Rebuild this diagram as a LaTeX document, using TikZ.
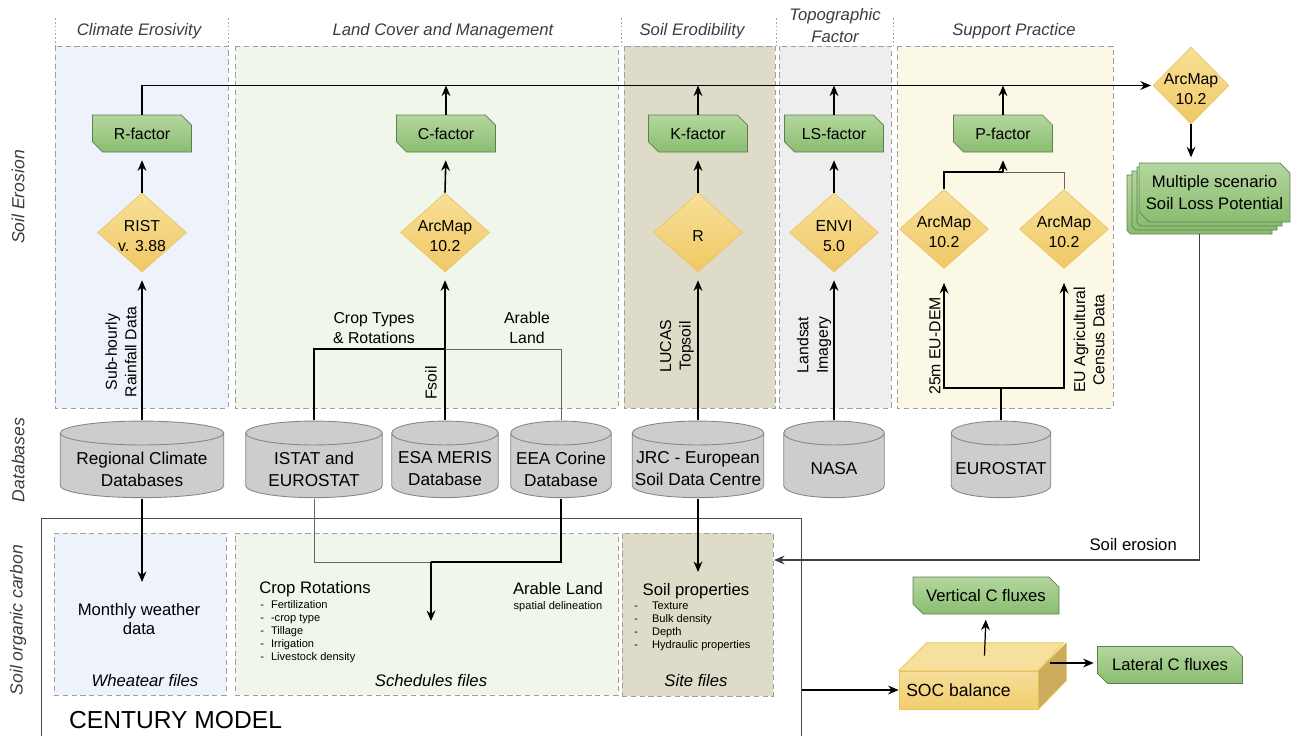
\documentclass[tikz,border=0pt]{standalone}
\usepackage{fontspec}
\setmainfont{Liberation Sans}
\usetikzlibrary{shapes.geometric, shapes.misc, arrows.meta, positioning, calc}

\definecolor{laneblue}{RGB}{238,242,250}
\definecolor{lanegreen}{RGB}{240,246,233}
\definecolor{lanetan}{RGB}{222,219,200}
\definecolor{lanegray}{RGB}{238,238,238}
\definecolor{laneyellow}{RGB}{252,248,230}
\definecolor{facttop}{RGB}{180,214,158}
\definecolor{factbot}{RGB}{138,189,112}
\definecolor{factline}{RGB}{95,125,85}
\definecolor{tooltop}{RGB}{248,224,152}
\definecolor{toolbot}{RGB}{240,200,100}
\definecolor{toolline}{RGB}{232,198,110}
\definecolor{dbbody}{RGB}{192,192,192}
\definecolor{dbend}{RGB}{205,205,205}
\definecolor{dbline}{RGB}{135,135,135}
\definecolor{headtext}{RGB}{60,60,60}
\definecolor{socfront}{RGB}{242,206,110}
\definecolor{soctop}{RGB}{245,224,158}
\definecolor{socside}{RGB}{204,172,92}
\definecolor{socline}{RGB}{234,196,86}

\tikzset{
    lane/.style={draw=gray!75, dash pattern=on 3pt off 2pt, line width=0.5pt},
    lanebox/.style={lane, inner sep=0pt},
    factor/.style={chamfered rectangle, chamfered rectangle corners={north east,south west},
        chamfered rectangle xsep=0.1cm, chamfered rectangle ysep=0.1cm,
        draw=factline, top color=facttop, bottom color=factbot, line width=0.4pt,
        minimum width=1.98cm, minimum height=0.74cm, inner sep=1pt, align=center,
        font=\fontsize{9}{11}\selectfont},
    tool/.style={diamond, draw=toolline, top color=tooltop, bottom color=toolbot,
        minimum width=1.78cm, minimum height=1.58cm, inner sep=0pt},
    toolfont/.style={align=center, font=\fontsize{9}{11.4}\selectfont, yshift=-2pt},
    dbase/.style={rectangle, minimum height=1.56cm, inner sep=0pt, anchor=north,
        path picture={
            \path let \p1=(path picture bounding box.north west),
                \p2=(path picture bounding box.south east),
                \n1={(\x2-\x1)/2-0.4pt} in
                [draw=dbline, fill=dbbody, line width=0.5pt]
                (\x1+0.4pt,\y1-7.2pt) -- (\x1+0.4pt,\y2+7.2pt)
                arc[start angle=180, end angle=360, x radius=\n1, y radius=6.8pt]
                -- (\x2-0.4pt,\y1-7.2pt)
                arc[start angle=0, end angle=180, x radius=\n1, y radius=6.8pt] -- cycle
                [fill=dbend] ({(\x1+\x2)/2},\y1-7.2pt) ellipse[x radius=\n1, y radius=6.8pt];
        }},
    dbfont/.style={align=center, font=\fontsize{9.8}{12.5}\selectfont, yshift=-5.5pt},
    flow/.style={-{Stealth[length=6pt,width=5pt]}, line width=0.9pt},
    link/.style={line width=0.9pt},
    thinlink/.style={line width=0.5pt, draw=black!60},
    lanehead/.style={font=\fontsize{9.5}{12.5}\selectfont\itshape, text=headtext, align=center},
    sidehead/.style={font=\fontsize{10}{12}\selectfont\itshape, text=headtext, rotate=90},
    vlabel/.style={rotate=90, align=center, font=\fontsize{9}{11}\selectfont},
    smalllist/.style={align=left, inner sep=0pt, font=\fontsize{6.3}{7.4}\selectfont},
}

\begin{document}
\begin{tikzpicture}[x=0.02cm, y=-0.02cm, font=\fontsize{9.5}{11.5}\selectfont]
        \useasboundingbox (0,0) rectangle (1293,735);

        % Lanes
        \draw[lane, fill=laneblue] (55,46) rectangle (228,408);
        \draw[lane, fill=lanegreen] (235,46) rectangle (618,408);
        \draw[lane, fill=lanetan] (624,46) rectangle (775,408);
        \draw[lane, fill=lanegray] (779,46) rectangle (891,408);
        \draw[lane, fill=laneyellow] (897,46) rectangle (1113,408);
        \foreach \xs in {55,228,621,776,893}
            \draw[gray!70, dash pattern=on 1pt off 1.2pt, line width=0.4pt] (\xs,18) -- (\xs,46);

        % Headers
        \node[lanehead] (hclim) at (139,31) {Climate Erosivity};
        \node[lanehead] (hland) at (443,31) {Land Cover and Management};
        \node[lanehead] (hsoil) at (692,31) {Soil Erodibility};
        \node[lanehead] (htopo) at (835,26) {Topographic\\Factor};
        \node[lanehead] (hsupp) at (1014,31) {Support Practice};
        \node[sidehead] (serosion) at (18,197) {Soil Erosion};
        \node[sidehead] (sdata) at (18,460) {Databases};
        \node[sidehead] (ssoc) at (18,620) {Soil organic carbon};

        % Factors
        \node[factor] (rfac) at (142,133.5) {R-factor};
        \node[factor] (cfac) at (446,133.5) {C-factor};
        \node[factor] (kfac) at (698,133.5) {K-factor};
        \node[factor] (lsfac) at (834,133.5) {LS-factor};
        \node[factor] (pfac) at (1003,133.5) {P-factor};

        % Tools
        \node[tool, label={[toolfont]center:RIST\\v. 3.88}] (rist) at (142,232.5) {};
        \node[tool, label={[toolfont]center:ArcMap\\10.2}] (arcC) at (445,232.5) {};
        \node[tool, label={[toolfont]center:R}] (rtool) at (698,232.5) {};
        \node[tool, label={[toolfont]center:ENVI\\5.0}] (envi) at (834,232.5) {};
        \node[tool, label={[toolfont]center:ArcMap\\10.2}] (arcP1) at (944,229) {};
        \node[tool, label={[toolfont]center:ArcMap\\10.2}] (arcP2) at (1064,229) {};
        \node[tool, minimum width=1.52cm, minimum height=1.54cm,
            label={[toolfont]center:ArcMap\\10.2}] (arcTop) at (1191,85.5) {};

        % Scenario stack
        \node[factor, minimum width=2.9cm, minimum height=1.18cm] (scen3) at (1199.5,204.5) {};
        \node[factor, minimum width=2.9cm, minimum height=1.18cm] (scen2) at (1204.5,200.5) {};
        \node[factor, minimum width=2.9cm, minimum height=1.18cm] (scen1) at (1209.5,196.5) {};
        \node[factor, minimum width=2.9cm, minimum height=1.18cm,
            font=\fontsize{9.5}{13}\selectfont] (scen) at (1214.5,192.5) {Multiple scenario\\Soil Loss Potential};

        % Databases
        \node[dbase, minimum width=3.3cm, label={[dbfont]center:Regional Climate\\Databases}] (regional) at (142,420) {};
        \node[dbase, minimum width=2.76cm, label={[dbfont]center:ISTAT and\\EUROSTAT}] (istat) at (314,420) {};
        \node[dbase, minimum width=2.16cm, label={[dbfont]center:ESA MERIS\\Database}] (esa) at (445,420) {};
        \node[dbase, minimum width=2.04cm, label={[dbfont]center:EEA Corine\\Database}] (eea) at (561,420) {};
        \node[dbase, minimum width=2.66cm, label={[dbfont]center:JRC - European\\Soil Data Centre}] (jrc) at (698,420) {};
        \node[dbase, minimum width=2.04cm, label={[dbfont]center:NASA}] (nasa) at (834,420) {};
        \node[dbase, minimum width=2.02cm, label={[dbfont]center:EUROSTAT}] (eurostat) at (1001,420) {};

        % Century model
        \node[draw=black!70, line width=0.6pt, minimum width=15.22cm, minimum height=4.44cm,
            inner sep=0pt] (century) at (421.5,629) {};
        \node[lanebox, fill=laneblue, minimum width=3.44cm, minimum height=3.24cm] (wfiles) at (140,614) {};
        \node[lanebox, fill=lanegreen, minimum width=7.66cm, minimum height=3.24cm] (sfiles) at (426.5,614) {};
        \node[lanebox, fill=lanetan, minimum width=3.02cm, minimum height=3.26cm] (sitebox) at (697.5,614.5) {};
        \node[anchor=west, font=\fontsize{14}{16}\selectfont] (cmodel) at (63,720) {CENTURY MODEL};

        \node[align=center, font=\fontsize{9.5}{10.6}\selectfont] (weather) at (139,619) {Monthly weather\\data};
        \node[font=\fontsize{9.5}{11}\selectfont\itshape] (wlabel) at (145,681) {Wheatear files};
        \node[anchor=west, inner sep=0pt] (croprot) at (259,589) {Crop Rotations};
        \node[smalllist, anchor=north west] (croplist) at (260,599) {%
            \begin{tabular}{@{}l@{\hspace{4pt}}l@{}}
            - & Fertilization\\
            - & -crop type\\
            - & Tillage\\
            - & Irrigation\\
            - & Livestock density
            \end{tabular}};
        \node (arable) at (558,589) {Arable Land};
        \node[smalllist] (arabsub) at (558,607) {spatial delineation};
        \node[font=\fontsize{9.5}{11}\selectfont\itshape] (slabel) at (431,681) {Schedules files};
        \node (soilprops) at (696,591) {Soil properties};
        \node[smalllist, anchor=north west] (soillist) at (634,600) {%
            \begin{tabular}{@{}l@{\hspace{8pt}}l@{}}
            - & Texture\\
            - & Bulk density\\
            - & Depth\\
            - & Hydraulic properties
            \end{tabular}};
        \node[font=\fontsize{9.5}{11}\selectfont\itshape] (sitelabel) at (696,681) {Site files};

        % SOC balance block
        \node[draw=socline, top color=socfront!70!white, bottom color=socfront, minimum width=2.78cm,
            minimum height=0.76cm, inner sep=0pt, font=\fontsize{10}{12}\selectfont] (soc) at (968.5,690)
            {\hspace{-0.4cm}SOC balance};
        \draw[draw=socline, fill=soctop] (soc.north west) -- ++(28,-28) -- ++(137,0)
            -- (soc.north east) -- cycle;
        \draw[draw=socline, fill=socside] (soc.north east) -- ++(28,-28) -- ++(0,38)
            -- (soc.south east) -- cycle;
        \node[factor, minimum width=2.92cm, font=\fontsize{9.5}{11}\selectfont] (vflux) at (986,595.5) {Vertical C fluxes};
        \node[factor, minimum width=2.9cm, font=\fontsize{9.5}{11}\selectfont] (lflux) at (1170,665) {Lateral C fluxes};

        % Labels
        \node[vlabel] (rainlab) at (121,352) {Sub-hourly\\Rainfall Data};
        \node[align=center, font=\fontsize{9}{11.4}\selectfont] (croplab) at (374,328) {Crop Types\\\& Rotations};
        \node[align=center, font=\fontsize{9}{11.4}\selectfont] (arablab) at (527,328) {Arable\\Land};
        \node[vlabel] (fsoillab) at (431,383) {Fsoil};
        \node[vlabel] (lucaslab) at (677,346) {LUCAS\\Topsoil};
        \node[vlabel] (landsatlab) at (814,345) {Landsat\\Imagery};
        \node[vlabel] (demlab) at (935,346) {25m EU-DEM};
        \node[vlabel] (censuslab) at (1089,340) {EU Agricultural\\Census Data};
        \node[anchor=east] (erolab) at (1183,545) {Soil erosion};

        % Junctions
        \coordinate (cropjoin) at (445,349);
        \coordinate (schedjoin) at (431,562);
        \coordinate (schedin) at (431,621);
        \coordinate (weatherin) at (142,582);
        \coordinate (sitein) at (698,572);
        \coordinate (censusjoin) at (1001,388);
        \coordinate (pjoin) at (1003,172);
        \coordinate (siteport) at (774,560);

        % Arrows
        \draw[flow, shorten >=1pt] (rfac.north) |- (arcTop.west);
        \foreach \f in {cfac,kfac,lsfac,pfac}
            \draw[flow] (\f.north) -- (\f.north |- arcTop.west);
        \foreach \t/\f in {rist/rfac,arcC/cfac,rtool/kfac,envi/lsfac}
            \draw[flow, shorten >=4.5pt] (\t.north) -- (\f.south);
        \draw[flow, shorten >=4.5pt] (regional.north) -- (rist.south);
        \draw[flow, shorten >=4.5pt] (esa.north) -- (arcC.south);
        \draw[flow, shorten >=4.5pt] (jrc.north) -- (rtool.south);
        \draw[flow, shorten >=4.5pt] (nasa.north) -- (envi.south);
        \draw[link] (istat.north) |- (cropjoin);
        \draw[thinlink] (eea.north) |- (cropjoin);
        \draw[link] (eurostat.north) -- (censusjoin);
        \draw[flow, shorten >=8pt] (censusjoin) -| (arcP1.south);
        \draw[flow, shorten >=8pt] (censusjoin) -| (arcP2.south);
        \draw[link] (arcP1.north) |- (pjoin);
        \draw[thinlink] (arcP2.north) |- (pjoin);
        \draw[flow, shorten >=4.5pt] (pjoin) -- (pfac.south);
        \draw[flow, shorten >=3pt] (arcTop.south) -- (arcTop.south |- scen.north);
        \draw[thinlink, draw=black!75, line width=0.6pt, -{Stealth[length=6pt,width=5pt]}] (scen3.south) |- (siteport);
        \draw[flow] (regional.south) -- (weatherin);
        \draw[thinlink] (istat.south) |- (schedjoin);
        \draw[link] (eea.south) |- (schedjoin);
        \draw[flow] (schedjoin) -- (schedin);
        \draw[flow] (jrc.south) -- (sitein);
        \draw[flow] (century.east |- soc.west) -- (soc.west);
        \draw[flow, line width=0.7pt, shorten >=3pt] ($(soc.north)+(16,-15)$) -- (vflux.south);
        \draw[flow, line width=0.7pt, shorten >=2pt] ($(soc.east)+(12,-27)$) -- (lflux.west |- {$(soc.east)+(12,-27)$});
    \end{tikzpicture}
\end{document}
